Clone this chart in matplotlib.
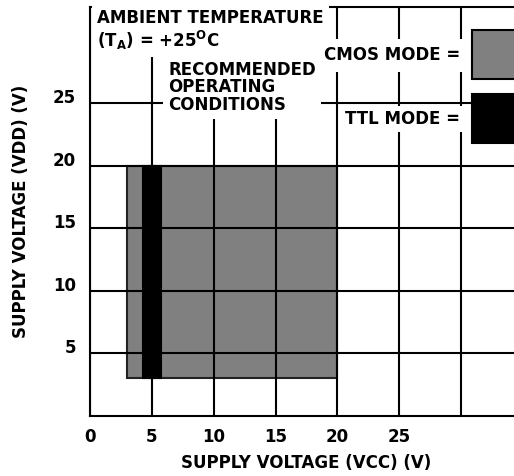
import matplotlib.pyplot as plt
from matplotlib.patches import Rectangle

plt.rcParams['font.family'] = ['DejaVu Sans']
plt.rcParams['font.weight'] = 'bold'
plt.rcParams['mathtext.default'] = 'bf'

# Operating regions (V)
cmos_vcc = (3, 20)
cmos_vdd = (3, 20)
ttl_vcc = (4.25, 5.75)
ttl_vdd = (3, 20)

x_ticks = [0, 5, 10, 15, 20, 25, 30]
x_labels = ['0', '5', '10', '15', '20', '25', '']
y_ticks = [5, 10, 15, 20, 25]
y_labels = ['5', '10', '15', '20', '25']

W, H = 514, 476
L, B, AW, AH = 90, 416, 433, 409   # axes box in pixels (left, bottom y, width, height)


def px(x, y):
    # pixel position in the picture -> axes fraction
    return (x - L) / AW, (B - y) / AH


fig = plt.figure(figsize=(W / 100, H / 100), dpi=100)
ax = fig.add_axes([L / W, (H - B) / H, AW / W, AH / H])
ax.set_xlim(0, 35)
ax.set_ylim(0, 32.7)

lw = 1.5
fs = 12
ax.add_patch(Rectangle((cmos_vcc[0], cmos_vdd[0]), cmos_vcc[1] - cmos_vcc[0],
                       cmos_vdd[1] - cmos_vdd[0], facecolor='#808080',
                       edgecolor='#222222', lw=lw, zorder=1))
ax.add_patch(Rectangle((ttl_vcc[0], ttl_vdd[0]), ttl_vcc[1] - ttl_vcc[0],
                       ttl_vdd[1] - ttl_vdd[0], facecolor='black',
                       edgecolor='black', lw=lw, zorder=1.1))

ax.set_xticks(x_ticks)
ax.set_xticklabels(x_labels)
ax.set_yticks(y_ticks)
ax.set_yticklabels(y_labels)
for lab in ax.get_yticklabels():
    lab.set_verticalalignment('baseline')
ax.tick_params(length=0, labelsize=fs)
ax.tick_params(axis='x', pad=9)
ax.tick_params(axis='y', pad=10)
ax.set_axisbelow(False)
ax.grid(True, color='black', lw=lw)
for s in ax.spines.values():
    s.set_linewidth(lw)
ax.spines['right'].set_visible(False)

ax.set_xlabel('SUPPLY VOLTAGE (VCC) (V)', fontsize=fs, fontweight='bold')
ax.xaxis.set_label_coords(0.5, px(0, 454)[1])
ax.set_ylabel('SUPPLY VOLTAGE (VDD) (V)', fontsize=fs, fontweight='bold')
ax.yaxis.set_label_coords(px(30, 0)[0], 0.5)

ax.text(*px(97, 9), 'AMBIENT TEMPERATURE\n(T$_A$) = +25$^O$C',
        transform=ax.transAxes, ha='left', va='top', fontsize=fs,
        linespacing=1.1, zorder=3,
        bbox=dict(facecolor='white', edgecolor='none', boxstyle='square,pad=0.3'))
ax.text(*px(168, 61), 'RECOMMENDED\nOPERATING\nCONDITIONS',
        transform=ax.transAxes, ha='left', va='top', fontsize=fs,
        linespacing=0.95, zorder=3,
        bbox=dict(facecolor='white', edgecolor='none', boxstyle='square,pad=0.3'))

ax.text(*px(460, 55), 'CMOS MODE =', transform=ax.transAxes,
        ha='right', va='center', fontsize=fs, zorder=3,
        bbox=dict(facecolor='white', edgecolor='none', boxstyle='square,pad=0.45'))
ax.text(*px(460, 119), 'TTL MODE =', transform=ax.transAxes,
        ha='right', va='center', fontsize=fs, zorder=3,
        bbox=dict(facecolor='white', edgecolor='none', boxstyle='square,pad=0.25'))
ax.add_patch(Rectangle(px(472, 79), 60 / AW, 49 / AH, transform=ax.transAxes,
                       facecolor='#808080', edgecolor='black', lw=lw,
                       zorder=4, clip_on=False))
ax.add_patch(Rectangle(px(472, 143), 60 / AW, 49 / AH, transform=ax.transAxes,
                       facecolor='black', edgecolor='black', lw=lw,
                       zorder=4, clip_on=False))

fig.savefig('out.png', dpi=100)
